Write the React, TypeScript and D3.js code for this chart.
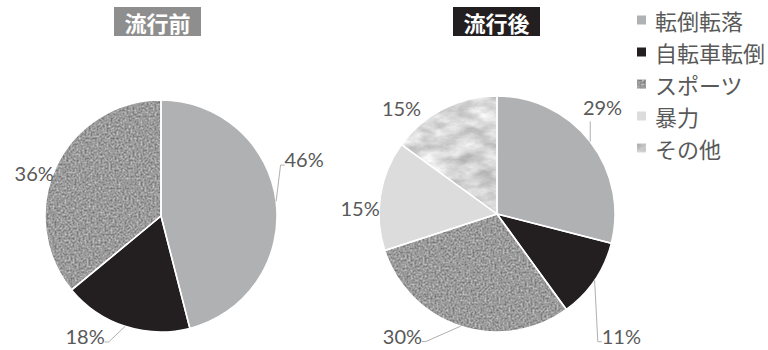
import React from 'react';
import * as d3 from 'd3';

// ---- data ----
const categories = ['転倒転落', '自転車転倒', 'スポーツ', '暴力', 'その他'];
const beforeValues = [46, 18, 36, 0, 0];
const afterValues = [29, 11, 30, 15, 15];
const chartTitles = ['流行前', '流行後'];

// ---- styles ----
const fills = ['#b0b1b3', '#231f20', '#9a9a9a', '#dcdcdd', '#d6d6d6'];
const textures: (string | null)[] = [null, null, 'url(#tex-noise)', null, 'url(#tex-marble)'];

const W = 768;
const H = 350;

type LabelLayout = [number, number, 'side' | 'bottom' | 'none'] | null;

const pieLayouts: {
  cx: number; cy: number; r: number; titleX: number; titleW: number; titleFill: string; labels: LabelLayout[];
}[] = [
  {
    cx: 161, cy: 216, r: 116, titleX: 114, titleW: 87, titleFill: '#8e8e8e',
    labels: [[68.3, 154, 'side'], [212.3, 142, 'side'], [288.9, 134, 'none'], null, null],
  },
  {
    cx: 497, cy: 214, r: 118, titleX: 453, titleW: 87, titleFill: '#231f20',
    labels: [[44.7, 150, 'bottom'], [134.4, 174, 'side'], [217.9, 154, 'side'], [272.5, 137, 'none'], [318.1, 143, 'none']],
  },
];

const seriesValues = [beforeValues, afterValues];

const LABEL_FONT = 'Lato, "Open Sans", sans-serif';
const CJK_FONT = '"Noto Sans CJK JP", "Noto Sans", sans-serif';

function PieChart({ idx }: { idx: number }) {
  const lay = pieLayouts[idx];
  const values = seriesValues[idx];
  const pie = d3.pie<number>().sort(null).value((d) => d);
  const arcs = pie(values);
  const arcGen = d3.arc<d3.PieArcDatum<number>>().innerRadius(0).outerRadius(lay.r);
  const total = d3.sum(values);
  const halfW = 18.5;

  return (
    <g>
      <g transform={`translate(${lay.cx},${lay.cy})`}>
        {arcs.map((a, i) =>
          a.value > 0 ? (
            <path key={'f' + i} d={arcGen(a) || ''} fill={fills[i]} filter={textures[i] || undefined} />
          ) : null
        )}
        {arcs.map((a, i) =>
          a.value > 0 ? (
            <path key={'s' + i} d={arcGen(a) || ''} fill="none" stroke="#fff" strokeWidth={1.5} strokeLinejoin="round" />
          ) : null
        )}
      </g>
      {arcs.map((a, i) => {
        const l = lay.labels[i];
        if (!l || a.value <= 0) return null;
        const mid = (a.startAngle + a.endAngle) / 2;
        const px = lay.cx + lay.r * Math.sin(mid);
        const py = lay.cy - lay.r * Math.cos(mid);
        const ang = (l[0] * Math.PI) / 180;
        const lx = lay.cx + l[1] * Math.sin(ang);
        const ly = lay.cy - l[1] * Math.cos(ang);
        let leader: string | null = null;
        if (l[2] === 'side') {
          if (lx > px) {
            const edge = lx - halfW - 1;
            leader = `M${px},${py}L${edge - 4},${ly + 6}L${edge},${ly + 6}`;
          } else {
            const edge = lx + halfW + 1;
            leader = `M${px},${py}L${edge + 4},${ly + 6}L${edge},${ly + 6}`;
          }
        } else if (l[2] === 'bottom') {
          leader = `M${px},${py}L${px},${ly + 14}`;
        }
        const pct = Math.round((a.value / total) * 100);
        return (
          <g key={'l' + i}>
            {leader && <path d={leader} fill="none" stroke="#b0b0b0" strokeWidth={1} />}
            <text
              x={lx}
              y={ly}
              textAnchor="middle"
              dominantBaseline="central"
              fontFamily={LABEL_FONT}
              fontSize={20}
              fill="#595959"
            >
              {pct}%
            </text>
          </g>
        );
      })}
      <rect x={lay.titleX} y={7} width={lay.titleW} height={29} fill={lay.titleFill} />
      <text
        x={lay.titleX + lay.titleW / 2}
        y={22}
        textAnchor="middle"
        dominantBaseline="central"
        fontFamily={CJK_FONT}
        fontWeight="bold"
        fontSize={22}
        fill="#fff"
      >
        {chartTitles[idx]}
      </text>
    </g>
  );
}

export default function App() {
  const legendY = d3.scalePoint<string>().domain(categories).range([20, 148]);
  return (
    <svg
      width={W}
      height={H}
      viewBox={`0 0 ${W} ${H}`}
      style={{ position: 'absolute', left: 0, top: 0, display: 'block', background: '#fff' }}
    >
      <defs>
        <filter id="tex-noise" colorInterpolationFilters="sRGB" x="-5%" y="-5%" width="110%" height="110%">
          <feTurbulence type="fractalNoise" baseFrequency="0.5" numOctaves={3} seed={4} result="t" />
          <feColorMatrix
            in="t"
            type="matrix"
            values="0.55 0 0 0 0.33  0.55 0 0 0 0.33  0.55 0 0 0 0.33  0 0 0 0 1"
            result="g"
          />
          <feComposite in="g" in2="SourceGraphic" operator="in" />
        </filter>
        <filter id="tex-marble" colorInterpolationFilters="sRGB" x="-5%" y="-5%" width="110%" height="110%">
          <feTurbulence type="fractalNoise" baseFrequency="0.04 0.08" numOctaves={5} seed={11} result="t" />
          <feColorMatrix
            in="t"
            type="matrix"
            values="0.45 0 0 0 0.62  0.45 0 0 0 0.62  0.45 0 0 0 0.62  0 0 0 0 1"
            result="g"
          />
          <feComposite in="g" in2="SourceGraphic" operator="in" />
        </filter>
      </defs>
      <rect x={0} y={0} width={W} height={H} fill="#fff" />
      <PieChart idx={0} />
      <PieChart idx={1} />
      <g>
        {categories.map((c, i) => {
          const y = legendY(c) as number;
          return (
            <g key={c}>
              <rect x={637} y={y - 4.5} width={9} height={9} fill={fills[i]} filter={textures[i] || undefined} />
              <text
                x={655}
                y={y}
                dominantBaseline="central"
                fontFamily={CJK_FONT}
                fontSize={22}
                fill="#595959"
              >
                {c}
              </text>
            </g>
          );
        })}
      </g>
    </svg>
  );
}
